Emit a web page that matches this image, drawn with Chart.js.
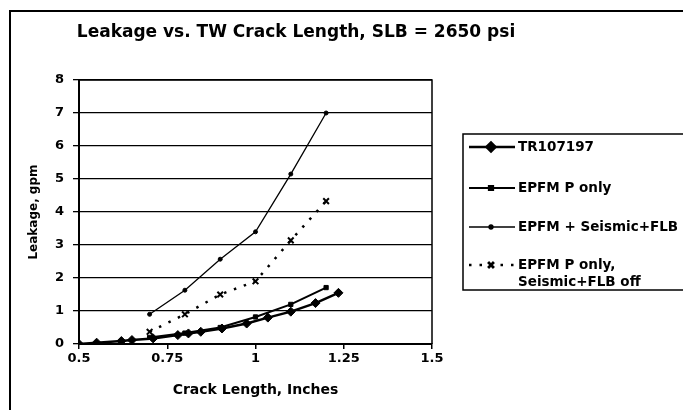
<!DOCTYPE html>
<html>
<head>
<meta charset="utf-8">
<script src="https://cdn.jsdelivr.net/npm/chart.js@4/dist/chart.umd.min.js"></script>
<style>
  html, body { margin: 0; padding: 0; background: #fff; }
  #wrap { width: 683px; height: 410px; }
</style>
</head>
<body>
<div id="wrap"><canvas id="chart" width="683" height="410"></canvas></div>
<script>
// values
const seriesNames = ['TR107197', 'EPFM P only', 'EPFM + Seismic+FLB', 'EPFM P only,\nSeismic+FLB off'];

const trX = [0.5, 0.55, 0.62, 0.65, 0.71, 0.78, 0.81, 0.845, 0.905, 0.975, 1.035, 1.1, 1.17, 1.235];
const trY = [0, 0.04, 0.09, 0.12, 0.17, 0.27, 0.32, 0.37, 0.47, 0.62, 0.8, 0.98, 1.24, 1.55];

const epfmX = [0.7, 0.8, 0.9, 1.0, 1.1, 1.2];
const pOnlyY = [0.2, 0.33, 0.5, 0.82, 1.2, 1.71];
const seismicY = [0.9, 1.63, 2.57, 3.4, 5.15, 7.0];
const offY = [0.37, 0.9, 1.5, 1.9, 3.14, 4.33];

const xTicks = [0.5, 0.75, 1, 1.25, 1.5];
const yTicks = [0, 1, 2, 3, 4, 5, 6, 7, 8];

const titleText = 'Leakage vs. TW Crack Length, SLB = 2650 psi';

const FONT = '"DejaVu Sans", Arial, sans-serif';

const pts = (xs, ys) => xs.map((x, i) => ({x: x, y: ys[i]}));

// frame, title and boxed legend
const decor = {
  id: 'decor',
  afterDraw(chart) {
    const ctx = chart.ctx;
    const area = chart.chartArea;
    ctx.save();

    // outer frame (left + top edges visible)
    ctx.strokeStyle = '#000';
    ctx.lineWidth = 2;
    ctx.beginPath();
    ctx.moveTo(10, 410);
    ctx.lineTo(10, 11);
    ctx.lineTo(683, 11);
    ctx.stroke();

    // plot frame right + top
    ctx.lineWidth = 1.5;
    ctx.beginPath();
    ctx.moveTo(area.left, area.top);
    ctx.lineTo(area.right, area.top);
    ctx.lineTo(area.right, area.bottom);
    ctx.stroke();

    // title
    ctx.fillStyle = '#000';
    ctx.font = 'bold 17px ' + FONT;
    ctx.textAlign = 'center';
    ctx.textBaseline = 'middle';
    ctx.fillText(titleText, 296, 33);

    // legend box
    ctx.lineWidth = 1.5;
    ctx.strokeRect(463, 134, 240, 156);

    const rows = [147, 188, 227, 265];
    ctx.font = 'bold 13.5px ' + FONT;
    ctx.textAlign = 'left';
    chart.data.datasets.forEach((ds, i) => {
      const y = rows[i];
      ctx.save();
      ctx.strokeStyle = ds.borderColor;
      ctx.lineWidth = ds.borderWidth;
      ctx.setLineDash(ds.borderDash || []);
      ctx.beginPath();
      ctx.moveTo(469, y);
      ctx.lineTo(515, y);
      ctx.stroke();
      ctx.setLineDash([]);
      Chart.helpers.drawPoint(ctx, {
        pointStyle: ds.pointStyle,
        radius: ds.pointRadius,
        borderWidth: ds.pointBorderWidth || 1
      }, 491, y);
      ctx.fillStyle = '#000';
      ctx.strokeStyle = '#000';
      if (ds.pointStyle === 'crossRot') ctx.stroke();
      ctx.restore();
      ds.label.split('\n').forEach((line, k) => {
        ctx.fillText(line, 518, y + k * 17);
      });
    });
    ctx.restore();
  }
};

new Chart(document.getElementById('chart'), {
  type: 'scatter',
  data: {
    datasets: [
      {
        label: seriesNames[0],
        data: pts(trX, trY),
        showLine: true,
        borderColor: '#000',
        backgroundColor: '#000',
        borderWidth: 2.5,
        pointStyle: 'rectRot',
        pointRadius: 4.5,
        pointBorderWidth: 1
      },
      {
        label: seriesNames[1],
        data: pts(epfmX, pOnlyY),
        showLine: true,
        borderColor: '#000',
        backgroundColor: '#000',
        borderWidth: 2,
        pointStyle: 'rect',
        pointRadius: 3,
        pointBorderWidth: 1
      },
      {
        label: seriesNames[2],
        data: pts(epfmX, seismicY),
        showLine: true,
        borderColor: '#000',
        backgroundColor: '#000',
        borderWidth: 1.3,
        pointStyle: 'circle',
        pointRadius: 2,
        pointBorderWidth: 1
      },
      {
        label: seriesNames[3],
        data: pts(epfmX, offY),
        showLine: true,
        borderColor: '#000',
        backgroundColor: '#000',
        borderWidth: 2.5,
        borderDash: [2.5, 8],
        pointStyle: 'crossRot',
        pointRadius: 4,
        pointBorderWidth: 2
      }
    ]
  },
  options: {
    responsive: false,
    animation: false,
    layout: { padding: { left: 0, top: 80, right: 251, bottom: 0 } },
    plugins: {
      legend: { display: false },
      tooltip: { enabled: false }
    },
    scales: {
      x: {
        type: 'linear',
        min: 0.5,
        max: 1.5,
        afterBuildTicks: (s) => { s.ticks = xTicks.map(v => ({value: v})); },
        afterFit: (s) => { s.height = 66; },
        border: { color: '#000', width: 2 },
        grid: { display: true, drawOnChartArea: false, drawTicks: true, tickLength: 5, color: '#000', lineWidth: 1.5 },
        ticks: {
          color: '#000',
          padding: 2,
          font: { family: FONT, weight: 'bold', size: 13 },
          callback: (v) => String(v)
        },
        title: {
          display: true,
          text: 'Crack Length, Inches',
          color: '#000',
          padding: { top: 0, bottom: 11 },
          font: { family: FONT, weight: 'bold', size: 14 }
        }
      },
      y: {
        type: 'linear',
        min: 0,
        max: 8,
        afterBuildTicks: (s) => { s.ticks = yTicks.map(v => ({value: v})); },
        afterFit: (s) => { s.width = 79; },
        border: { color: '#000', width: 2 },
        grid: { color: '#000', lineWidth: 1.3, tickLength: 6 },
        ticks: {
          color: '#000',
          padding: 9,
          font: { family: FONT, weight: 'bold', size: 13 }
        },
        title: {
          display: true,
          text: 'Leakage, gpm',
          color: '#000',
          padding: { top: 27, bottom: 0 },
          font: { family: FONT, weight: 'bold', size: 12 }
        }
      }
    }
  },
  plugins: [decor]
});
</script>
</body>
</html>
